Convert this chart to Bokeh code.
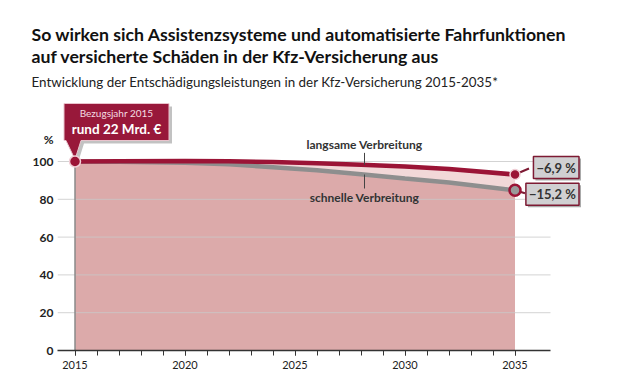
import numpy as np
from bokeh.plotting import figure
from bokeh.models import Range1d, FixedTicker, Label, Title
from bokeh.embed import file_html
from bokeh.resources import INLINE

# ---------------- data ----------------
years = [2015, 2017, 2020, 2022, 2024, 2026, 2028, 2030, 2032, 2035]
langsam = [100.0, 100.1, 100.2, 100.1, 99.8, 99.1, 98.3, 97.3, 96.0, 93.1]
schnell = [100.0, 99.9, 99.4, 98.5, 97.0, 95.4, 93.3, 91.0, 88.9, 84.8]
y_ticks = [0, 20, 40, 60, 80, 100]
x_ticks = [2015, 2020, 2025, 2030, 2035]
minor_years = list(range(2015, 2036))
end_labels = ["\u22126,9\u202f%", "\u221215,2\u202f%"]
unit_label = "%"
title1 = "So wirken sich Assistenzsysteme und automatisierte Fahrfunktionen"
title2 = "auf versicherte Schäden in der Kfz-Versicherung aus"
subtitle = "Entwicklung der Entschädigungsleistungen in der Kfz-Versicherung 2015-2035*"
callout_small = "Bezugsjahr 2015"
callout_big = "rund 22 Mrd. €"

# ---------------- geometry ----------------
W, H = 605, 375
ML, MR, MT, MB = 57, 5, 95, 25
FW, FH = W - ML - MR, H - MT - MB
PXX = 22.0      # px per year
PXY = 1.89      # px per percent
X0 = years[0] - 17.5 / PXX
X1 = X0 + FW / PXX
AXIS_END = X0 + 493 / PXX
Y1 = FH / PXY

def dx(px):
    return px / PXX

def dy(px):
    return px / PXY

RED = "#9b1436"
BOX = "#98183a"
GREY = "#8e8e8e"
FILL_DARK = "#dcaaaa"
FILL_LIGHT = "#f2d8d8"
FONT = "Lato"

p = figure(width=W, height=H, output_backend="svg", toolbar_location=None,
           x_range=Range1d(X0, X1), y_range=Range1d(0, Y1),
           min_border_left=ML, min_border_right=MR, min_border_top=MT,
           min_border_bottom=MB)
p.outline_line_color = None
p.xgrid.visible = False
p.ygrid.visible = False

# titles (added nearest-frame first)
p.add_layout(Title(text=subtitle, text_font=FONT, text_font_size="13.4px",
                   text_font_style="normal", text_color="#222222",
                   offset=-26, standoff=11), "above")
p.add_layout(Title(text=title2, text_font=FONT, text_font_size="17.7px",
                   text_font_style="bold", text_color="#111111",
                   offset=-26, standoff=0), "above")
p.add_layout(Title(text=title1, text_font=FONT, text_font_size="17.7px",
                   text_font_style="bold", text_color="#111111",
                   offset=-26, standoff=-3), "above")

# areas
p.varea(x=years, y1=0, y2=schnell, fill_color=FILL_DARK)
p.varea(x=years, y1=schnell, y2=langsam, fill_color=FILL_LIGHT)

# grid lines
gy = [t for t in y_ticks if t > 0]
p.segment(x0=[X0] * len(gy), x1=[AXIS_END] * len(gy), y0=gy, y1=gy,
          line_color="#c8c8c8", line_width=1, line_alpha=0.8)

# left edge of area
p.segment(x0=[years[0]], x1=[years[0]], y0=[0], y1=[langsam[0]],
          line_color="#8a8a8a", line_width=1.5)

# lines
p.line(years, schnell, line_color=GREY, line_width=4.5)
p.line(years, langsam, line_color=RED, line_width=4.5)

# series annotations
xa = years[0] + (364 - 74.5) / PXX
ra = float(np.interp(xa, years, langsam))
sa = float(np.interp(xa, years, schnell))
p.segment(x0=[xa], x1=[xa], y0=[ra], y1=[ra + dy(12)], line_color="#444444", line_width=1)
p.segment(x0=[xa], x1=[xa], y0=[sa], y1=[sa - dy(14)], line_color="#444444", line_width=1)
p.add_layout(Label(x=xa, y=ra + dy(13), text="langsame Verbreitung", text_align="center",
                   text_baseline="bottom", text_font=FONT, text_font_size="12px",
                   text_font_style="bold", text_color="#333333"))
p.add_layout(Label(x=xa, y=sa - dy(15), text="schnelle Verbreitung", text_align="center",
                   text_baseline="top", text_font=FONT, text_font_size="12px",
                   text_font_style="bold", text_color="#333333"))

# callout box (anchored at the 2015 point)
ax, ay = years[0], langsam[0]
bx = [ax + dx(v) for v in (-11, 94, 94, 6, 0, -9, -11)]
by = [ay + dy(v) for v in (58, 58, 21, 21, 2, 21, 21)]
p.patch([v + dx(3) for v in bx], [v - dy(3) for v in by], fill_color="#777777",
        fill_alpha=0.45, line_color=None)
p.patch(bx, by, fill_color=BOX, line_color="#e9c3cc", line_width=1)
cx = ax + dx(41.5)
p.add_layout(Label(x=cx, y=ay + dy(49), text=callout_small, text_align="center",
                   text_baseline="middle", text_font=FONT, text_font_size="10px",
                   text_color="#f4dde2"))
p.add_layout(Label(x=cx, y=ay + dy(33), text=callout_big, text_align="center",
                   text_baseline="middle", text_font=FONT, text_font_size="13.5px",
                   text_font_style="bold", text_color="white"))

# connectors to end labels
ex = years[-1]
p.segment(x0=[ex, ex], x1=[ex + dx(14), ex + dx(10)],
          y0=[langsam[-1], schnell[-1]], y1=[langsam[-1] + dy(6), schnell[-1] - dy(3)],
          line_color="#7d1a33", line_width=2)

# dots
p.scatter([years[0]], [langsam[0]], size=11, fill_color=RED, line_color="#f0cfd6", line_width=1.5)
p.scatter([ex], [langsam[-1]], size=10, fill_color=RED, line_color="#f0cfd6", line_width=1.5)
p.scatter([ex], [schnell[-1]], size=11, fill_color="#9a9a9a", line_color=RED, line_width=2.5)

# end labels with boxes (right edges aligned)
for yv, txt, shift in ((langsam[-1], end_labels[0], 7), (schnell[-1], end_labels[1], -4)):
    yy = yv + dy(shift)
    p.add_layout(Label(x=ex, y=yy, x_offset=66, y_offset=-2, text=txt, text_align="right",
                       text_baseline="middle", text_font=FONT, text_font_size="13px",
                       text_font_style="bold", text_color="#888888",
                       background_fill_color="#555555", background_fill_alpha=0.5,
                       padding=3))
    p.add_layout(Label(x=ex, y=yy, x_offset=64, text=txt, text_align="right",
                       text_baseline="middle", text_font=FONT, text_font_size="13px",
                       text_font_style="bold", text_color="#333333",
                       background_fill_color="#d0d0d2", border_line_color="#7d1a33",
                       border_line_width=1.5, padding=3))

# axes
unit_pos = y_ticks[-1] + dy(22.5)
p.xaxis.ticker = FixedTicker(ticks=x_ticks, minor_ticks=minor_years)
p.xaxis.bounds = (X0, AXIS_END)
p.xaxis.axis_line_color = "#333333"
p.xaxis.axis_line_width = 1.3
p.xaxis.major_tick_line_color = "#333333"
p.xaxis.minor_tick_line_color = "#333333"
p.xaxis.major_tick_in = 0
p.xaxis.major_tick_out = 5
p.xaxis.minor_tick_in = 0
p.xaxis.minor_tick_out = 5
p.xaxis.major_label_standoff = 5
p.xaxis.major_label_text_font = FONT
p.xaxis.major_label_text_font_size = "11px"
p.xaxis.major_label_text_color = "#222222"

p.yaxis.ticker = FixedTicker(ticks=y_ticks + [unit_pos])
p.yaxis.major_label_overrides = {unit_pos: unit_label}
p.yaxis.axis_line_color = None
p.yaxis.major_tick_line_color = None
p.yaxis.minor_tick_line_color = None
p.yaxis.major_tick_out = 0
p.yaxis.major_tick_in = 0
p.yaxis.major_label_standoff = 4
p.yaxis.major_label_text_font = FONT
p.yaxis.major_label_text_font_size = "12px"
p.yaxis.major_label_text_font_style = "bold"
p.yaxis.major_label_text_color = "#222222"

open("out.html", "w").write(file_html(p, INLINE))
